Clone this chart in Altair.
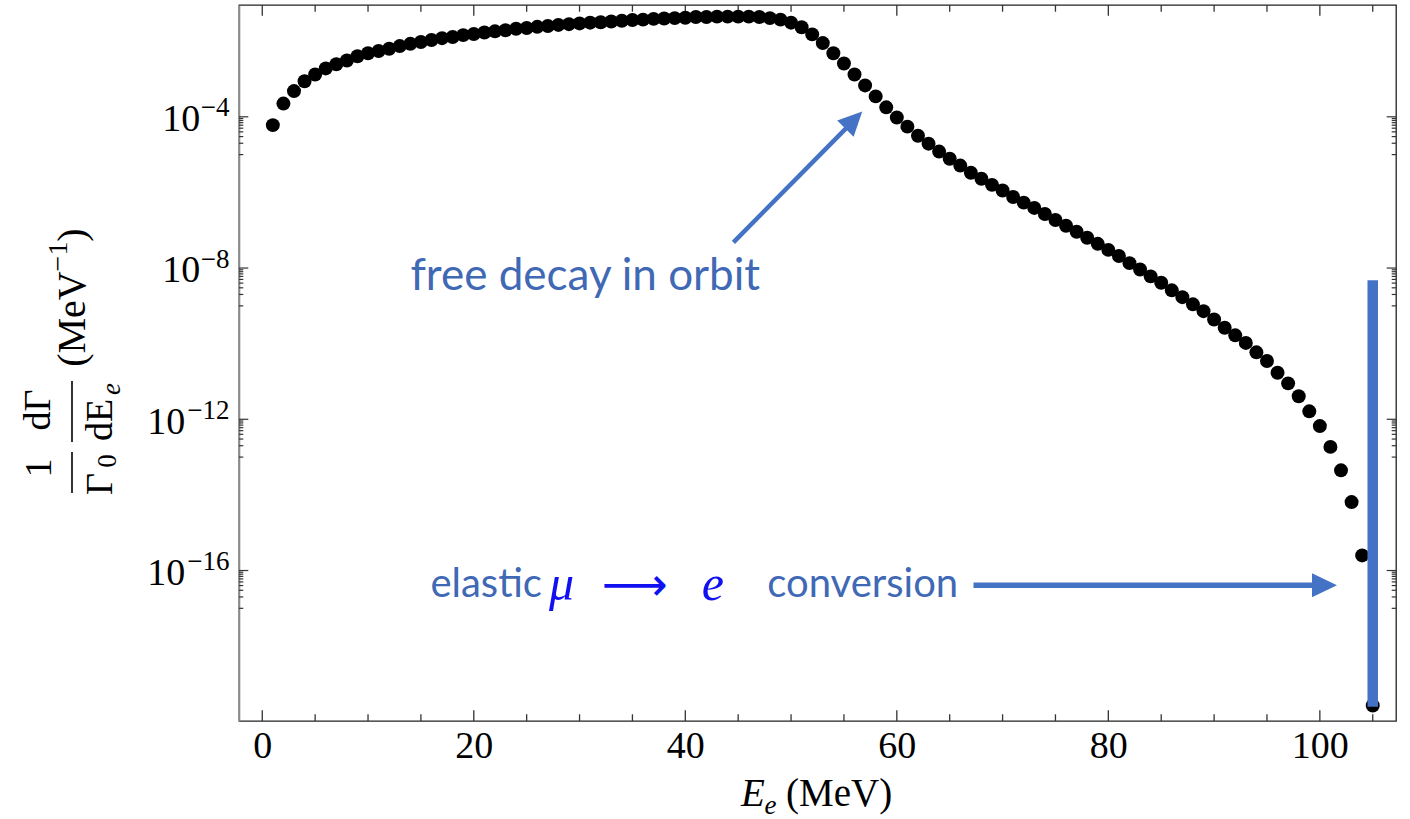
import altair as alt
import pandas as pd

# ---------------- data ----------------
E_MEV = list(range(1, 106))
# log10 of (1/Gamma0) dGamma/dE_e  (MeV^-1), one value per dot
LOG10_RATE = [
    -4.22, -3.65, -3.32, -3.06, -2.88, -2.72, -2.61, -2.51, -2.40, -2.32,
    -2.26, -2.20, -2.13, -2.07, -2.02, -1.97, -1.92, -1.89, -1.84, -1.81,
    -1.77, -1.74, -1.71, -1.67, -1.65, -1.62, -1.60, -1.57, -1.55, -1.53,
    -1.51, -1.50, -1.48, -1.46, -1.44, -1.43, -1.41, -1.40, -1.39, -1.38,
    -1.36, -1.36, -1.35, -1.35, -1.35, -1.35, -1.36, -1.39, -1.43, -1.51,
    -1.63, -1.82, -2.05, -2.32, -2.59, -2.88, -3.17, -3.46, -3.75, -4.02,
    -4.26, -4.50, -4.71, -4.92, -5.11, -5.29, -5.48, -5.64, -5.80, -5.95,
    -6.12, -6.27, -6.41, -6.57, -6.73, -6.88, -7.04, -7.20, -7.36, -7.52,
    -7.68, -7.87, -8.04, -8.22, -8.39, -8.59, -8.77, -8.96, -9.14, -9.36,
    -9.58, -9.78, -9.98, -10.23, -10.46, -10.77, -11.05, -11.39, -11.79, -12.18,
    -12.73, -13.35, -14.19, -15.60, -19.57,
]

X_TICK_LABELS = [0, 20, 40, 60, 80, 100]
X_MINOR_TICKS = [5, 10, 15, 25, 30, 35, 45, 50, 55, 65, 70, 75, 85, 90, 95, 105]
Y_MAJOR_EXP = [-4, -8, -12, -16]
Y_EXP_LABELS = ["\u22124", "\u22128", "\u221212", "\u221216"]
Y_MINOR_TICKS = [j * 10.0 ** (m - 1) for m in Y_MAJOR_EXP for j in range(1, 10)]

# mu -> e conversion line (E, log10 low, log10 high)
CONV_E = [105]
CONV_LOG_LOW = [-19.60]
CONV_LOG_HIGH = [-8.32]

# annotation arrows: start (E, log10), line end, tip
ARROW1_START = (44.55, -7.32)
ARROW1_END = (55.5, -4.22)
ARROW1_TIP = (56.73, -3.86)
ARROW2_START = (67.25, -16.39)
ARROW2_END = (99.6, -16.39)
ARROW2_TIP = (101.62, -16.39)

# ---------------- styling ----------------
SERIF = "Liberation Serif"
SANS = "Lato"
BLUE = "#4472C4"
TEXT_BLUE = "#3F68B5"
MATH_BLUE = "#1010F0"
TICK = "#333333"
W, H = 1157, 716

xs = alt.Scale(domain=[-2.2, 107.2], nice=False, zero=False)
ys = alt.Scale(type="log", domain=[10 ** -19.98, 10 ** -1.043], nice=False)
XAX = alt.Axis(title=None, values=X_TICK_LABELS, format="d", labelFont=SERIF,
               labelFontSize=38, labelColor="black", labelPadding=6, ticks=False,
               domain=False, grid=False, labelFlush=False, labelOverlap=False)
YAX = alt.Axis(title=None, labels=False, ticks=False, grid=False, domain=True,
               domainColor="#8a8a8a", domainWidth=1.6)


def X(f="E"):
    return alt.X(f"{f}:Q", scale=xs, axis=XAX)


def Y(f="rate"):
    return alt.Y(f"{f}:Q", scale=ys, axis=YAX)


layers = []

# ---- inward ticks ----
xmaj = pd.DataFrame({"E": X_TICK_LABELS})
xmin = pd.DataFrame({"E": X_MINOR_TICKS})
for d, ln in ((xmaj, 10.7), (xmin, 6.7)):
    layers.append(alt.Chart(d).mark_rule(color=TICK, strokeWidth=1.3).encode(
        x=X(), y=alt.value(H), y2=alt.value(H - ln)))
    layers.append(alt.Chart(d).mark_rule(color=TICK, strokeWidth=1.3).encode(
        x=X(), y=alt.value(0), y2=alt.value(ln)))
ymaj = pd.DataFrame({"rate": [10.0 ** m for m in Y_MAJOR_EXP]})
ymin = pd.DataFrame({"rate": Y_MINOR_TICKS})
for d, ln in ((ymaj, 9.3), (ymin, 4.3)):
    layers.append(alt.Chart(d).mark_rule(color=TICK, strokeWidth=1.2).encode(
        y=Y(), x=alt.value(0), x2=alt.value(ln)))
    layers.append(alt.Chart(d).mark_rule(color=TICK, strokeWidth=1.2).encode(
        y=Y(), x=alt.value(W), x2=alt.value(W - ln)))

# ---- y tick labels 10^n ----
ylab = pd.DataFrame({"rate": [10.0 ** m for m in Y_MAJOR_EXP],
                     "base": ["10"] * 4, "exp": Y_EXP_LABELS,
                     "nd": [len(str(abs(m))) for m in Y_MAJOR_EXP]})
for nd, xr in ((1, -38.7), (2, -53.7)):
    layers.append(alt.Chart(ylab).transform_filter(f"datum.nd == {nd}").mark_text(
        align="right", baseline="alphabetic", dy=14.4, font=SERIF, fontSize=38,
        color="black").encode(y=Y(), x=alt.value(xr), text="base:N"))
layers.append(alt.Chart(ylab).mark_text(
    align="right", baseline="alphabetic", dy=-0.5, font=SERIF, fontSize=27,
    color="black").encode(y=Y(), x=alt.value(-9.4), text="exp:N"))

# ---- data points ----
df = pd.DataFrame({"E": E_MEV, "rate": [10.0 ** v for v in LOG10_RATE]})
layers.append(alt.Chart(df).mark_circle(size=195, color="black", opacity=1).encode(
    x=X(), y=Y()))

# ---- conversion line ----
conv = pd.DataFrame({"E": CONV_E, "rate": [10.0 ** v for v in CONV_LOG_LOW],
                     "rate2": [10.0 ** v for v in CONV_LOG_HIGH]})
layers.append(alt.Chart(conv).mark_rule(color=BLUE, strokeWidth=10.5, strokeCap="butt").encode(
    x=X(), y=Y(), y2=alt.Y2("rate2:Q")))

# ---- arrows ----
HEAD = "M0,0L-1,-0.48L-1,0.48Z"
for start, end, tip, ang, sw, hs in ((ARROW1_START, ARROW1_END, ARROW1_TIP, 314.56, 4.5, 2300),
                                     (ARROW2_START, ARROW2_END, ARROW2_TIP, 0, 5.5, 2500)):
    seg = pd.DataFrame({"E": [start[0]], "rate": [10.0 ** start[1]],
                        "E2": [end[0]], "rate2": [10.0 ** end[1]]})
    layers.append(alt.Chart(seg).mark_rule(color=BLUE, strokeWidth=sw).encode(
        x=X(), y=Y(), x2=alt.X2("E2:Q"), y2=alt.Y2("rate2:Q")))
    head = pd.DataFrame({"E": [tip[0]], "rate": [10.0 ** tip[1]]})
    layers.append(alt.Chart(head).mark_point(shape=HEAD, size=hs, filled=True, color=BLUE,
                                             opacity=1, strokeWidth=0, angle=ang).encode(
        x=X(), y=Y()))

# ---- annotation texts ----
ann = pd.DataFrame({"E": [30.54], "rate": [10.0 ** -8.25], "t": ["free decay in orbit"]})
layers.append(alt.Chart(ann).mark_text(font=SANS, fontSize=44, color=TEXT_BLUE,
                                       align="center", baseline="middle").encode(
    x=X(), y=Y(), text="t:N"))
ann2 = pd.DataFrame({"E": [15.9, 47.75], "rate": [10.0 ** -16.37] * 2,
                     "t": ["elastic", "conversion"]})
layers.append(alt.Chart(ann2).mark_text(font=SANS, fontSize=40, color=TEXT_BLUE,
                                        align="left", baseline="middle").encode(
    x=X(), y=Y(), text="t:N"))
ann3 = pd.DataFrame({"E": [28.3, 42.6], "rate": [10.0 ** -16.37] * 2, "t": ["\u03bc", "e"]})
layers.append(alt.Chart(ann3).mark_text(font=SERIF, fontSize=50, fontStyle="italic",
                                        color=MATH_BLUE, align="center", baseline="middle").encode(
    x=X(), y=Y(), text="t:N"))
ann4 = pd.DataFrame({"E": [35.2], "rate": [10.0 ** -16.40], "t": ["\u27f6"]})
layers.append(alt.Chart(ann4).mark_text(font="DejaVu Sans", fontSize=46,
                                        color=MATH_BLUE, align="center", baseline="middle").encode(
    x=X(), y=Y(), text="t:N"))


# ---- axis titles built from pieces ----
def piece(text, x, y, size=37, italic=False, angle=0, align="center", baseline="middle"):
    kw = dict(font=SERIF, fontSize=size, color="black", align=align, baseline=baseline)
    if italic:
        kw["fontStyle"] = "italic"
    if angle:
        kw["angle"] = angle
    return alt.Chart(pd.DataFrame({"t": [text]})).mark_text(**kw).encode(
        text="t:N", x=alt.value(x), y=alt.value(y))


def bar(x, y1, y2):
    return alt.Chart(pd.DataFrame({"t": [0]})).mark_rule(color="black", strokeWidth=1.6).encode(
        x=alt.value(x), y=alt.value(y1), y2=alt.value(y2))


# x title: E_e (MeV)
layers += [
    piece("E", 502, 801, size=39, italic=True, align="left", baseline="alphabetic"),
    piece("e", 525.5, 809, size=27, italic=True, align="left", baseline="alphabetic"),
    piece("(MeV)", 547, 801, size=39, align="left", baseline="alphabetic"),
]
# y title: 1/Gamma0 dGamma/dE_e (MeV^-1), rotated
layers += [
    piece("1", -199.5, 463, size=38, angle=270),
    bar(-167, 447, 488),
    piece("\u0393", -138, 479, size=38, angle=270),
    piece("0", -131.5, 456, size=27, angle=270),
    piece("d\u0393", -200, 405, size=38, angle=270),
    bar(-167, 376, 437),
    piece("dE", -138, 415, size=38, angle=270),
    piece("e", -127, 384, size=27, italic=True, angle=270),
    piece("(MeV", -166, 314, size=40, angle=270),
    piece("\u22121", -180, 251.5, size=28, angle=270),
    piece(")", -166, 230, size=40, angle=270),
]

chart = alt.layer(*layers).properties(
    width=W, height=H,
    autosize=alt.AutoSizeParams(type="none"),
    padding={"left": 239, "top": 5, "right": 14, "bottom": 98},
    background="white",
).configure_view(stroke="#222222", strokeWidth=1.3)

chart.save("out.html", embed_options={"renderer": "svg", "actions": False})
